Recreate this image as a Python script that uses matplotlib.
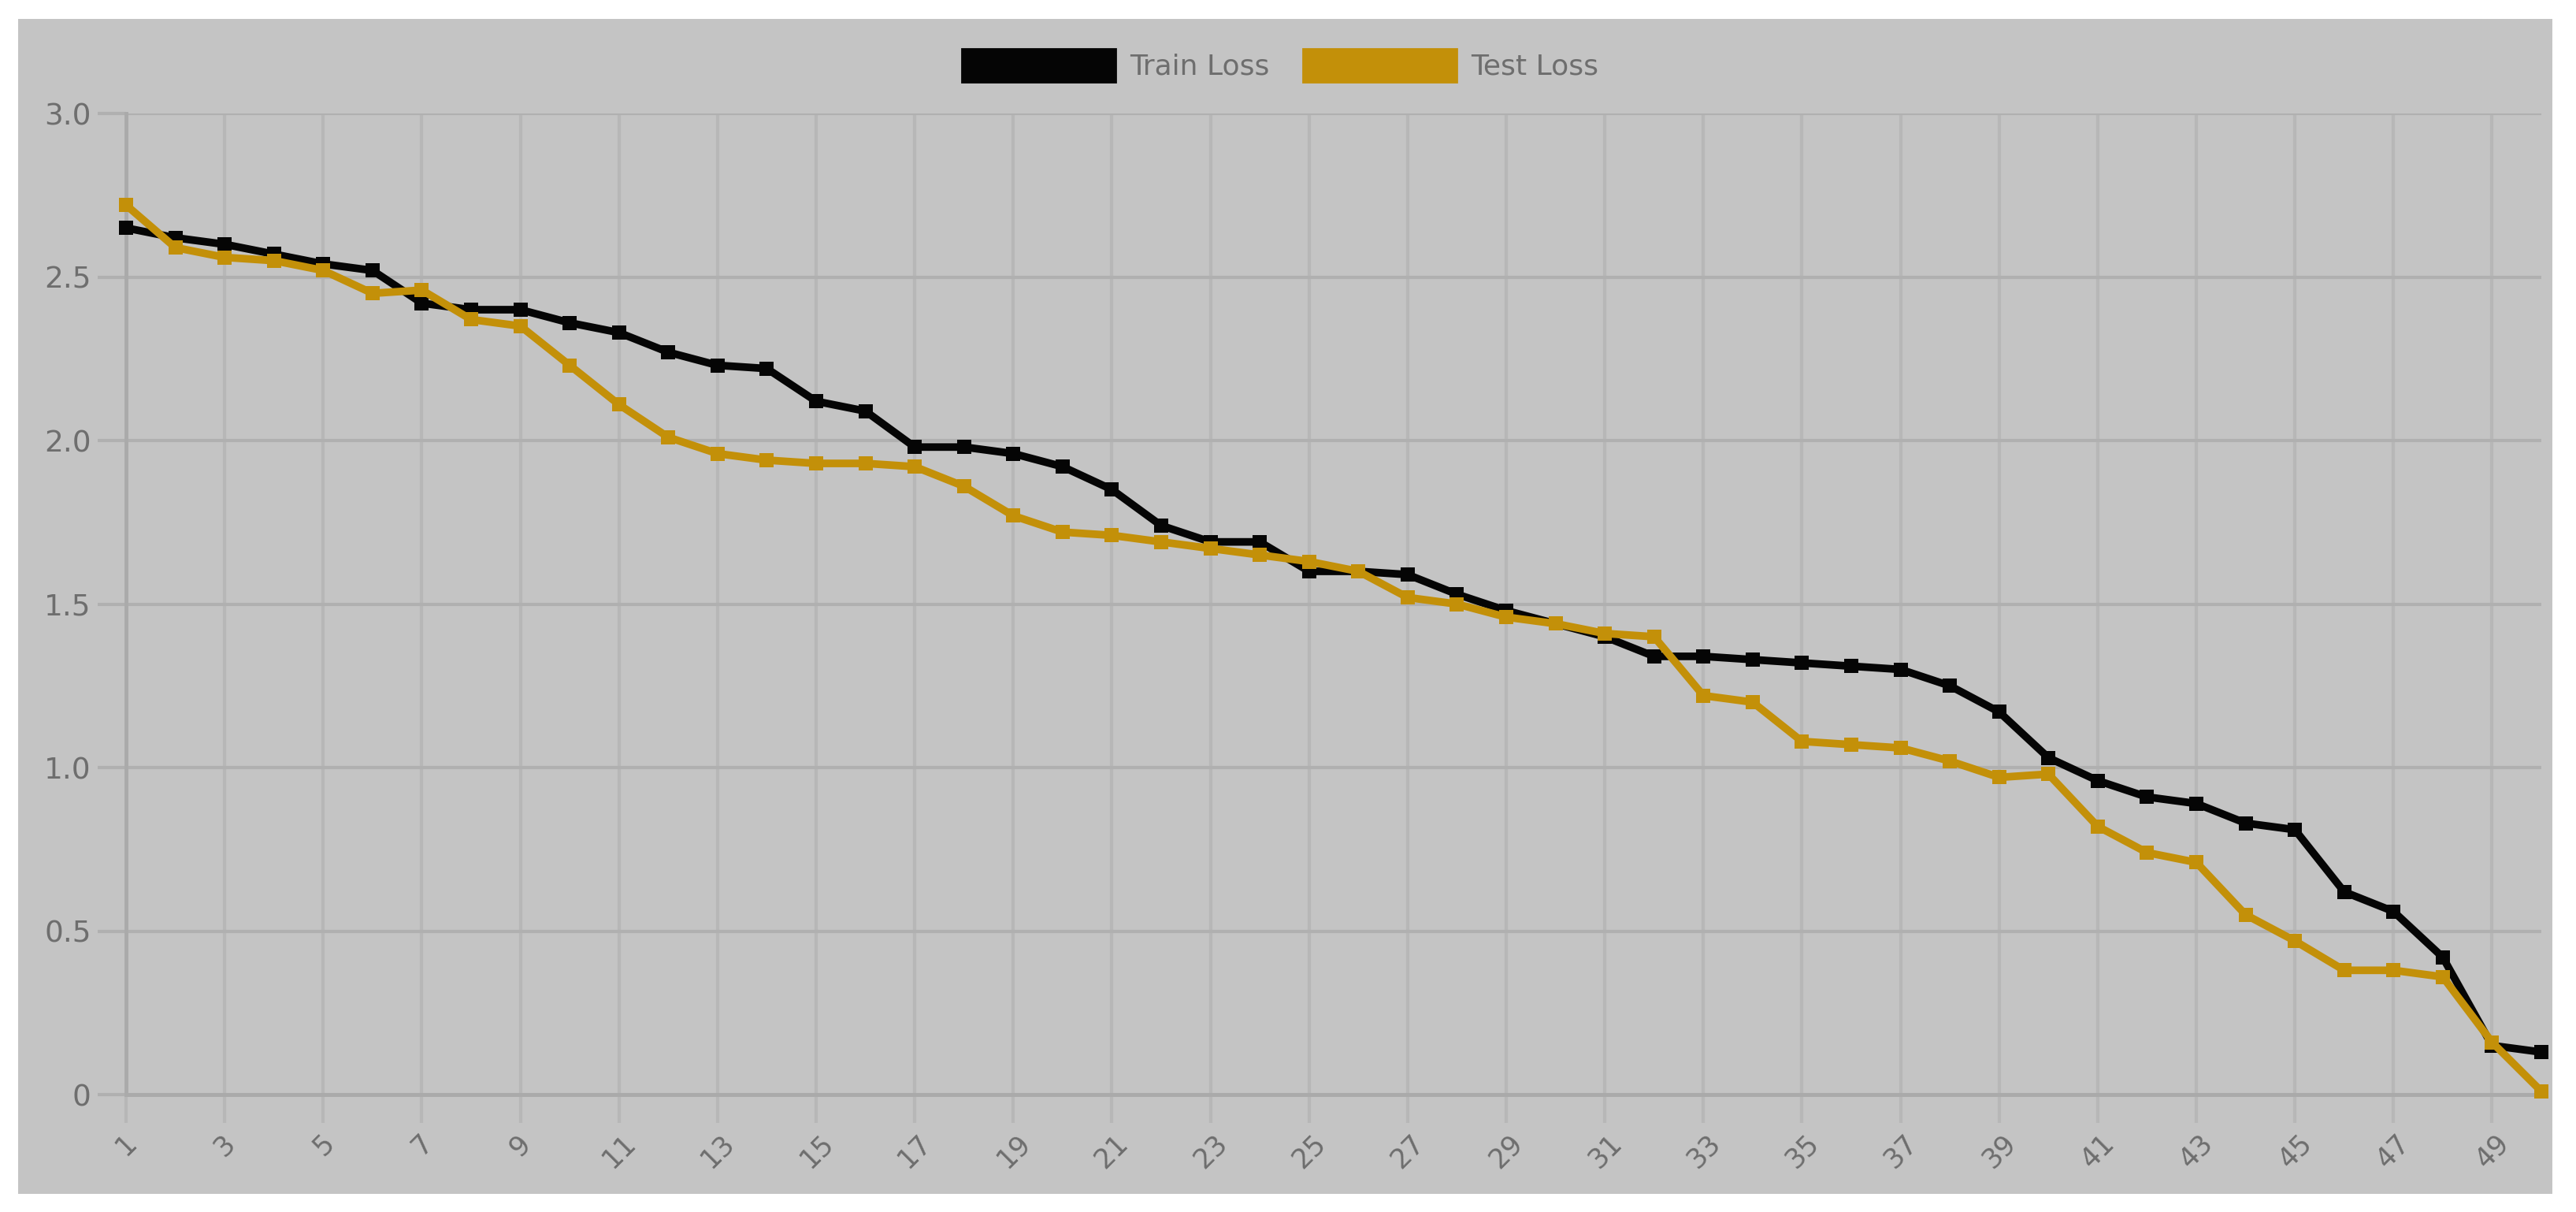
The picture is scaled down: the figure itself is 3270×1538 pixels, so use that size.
import matplotlib
matplotlib.use('Agg')
import matplotlib.pyplot as plt
from matplotlib.patches import Patch, Rectangle


epochs = list(range(1, 51))
train_loss = [2.65, 2.62, 2.60, 2.57, 2.54, 2.52, 2.42, 2.40, 2.40, 2.36,
              2.33, 2.27, 2.23, 2.22, 2.12, 2.09, 1.98, 1.98, 1.96, 1.92,
              1.85, 1.74, 1.69, 1.69, 1.60, 1.60, 1.59, 1.53, 1.48, 1.44,
              1.40, 1.34, 1.34, 1.33, 1.32, 1.31, 1.30, 1.25, 1.17, 1.03,
              0.96, 0.91, 0.89, 0.83, 0.81, 0.62, 0.56, 0.42, 0.15, 0.13]
test_loss = [2.72, 2.59, 2.56, 2.55, 2.52, 2.45, 2.46, 2.37, 2.35, 2.23,
             2.11, 2.01, 1.96, 1.94, 1.93, 1.93, 1.92, 1.86, 1.77, 1.72,
             1.71, 1.69, 1.67, 1.65, 1.63, 1.60, 1.52, 1.50, 1.46, 1.44,
             1.41, 1.40, 1.22, 1.20, 1.08, 1.07, 1.06, 1.02, 0.97, 0.98,
             0.82, 0.74, 0.71, 0.55, 0.47, 0.38, 0.38, 0.36, 0.16, 0.01]
series_names = ['Train Loss', 'Test Loss']
series_colors = ['#050505', '#c39009']
y_ticks = [0, 0.5, 1.0, 1.5, 2.0, 2.5, 3.0]
y_tick_labels = ['0', '0.5', '1.0', '1.5', '2.0', '2.5', '3.0']
x_ticks = list(range(1, 51, 2))

W, H = 3270, 1538
panel = '#c4c4c4'
grid_h = '#b0b0b0'
grid_v = '#b7b7b7'
text_col = '#6e6e6e'

fig = plt.figure(figsize=(W / 100, H / 100), dpi=100)
fig.patch.set_facecolor('white')
fig.add_artist(Rectangle((23 / W, 1 - 1515 / H), (3240 - 23) / W, (1515 - 24) / H,
                         transform=fig.transFigure, facecolor=panel,
                         edgecolor='none', zorder=-5))

ax = fig.add_axes([160 / W, 1 - 1389 / H, (3226 - 160) / W, (1389 - 144) / H])
ax.set_facecolor(panel)

for vals, name, col in zip([train_loss, test_loss], series_names, series_colors):
    ax.plot(epochs, vals, color=col, lw=7, marker='s', ms=13,
            markeredgewidth=0, label=name, zorder=3, clip_on=False)

ax.set_xlim(1, 50)
ax.set_ylim(0, 3.0)
ax.set_yticks(y_ticks)
ax.set_yticklabels(y_tick_labels)
ax.set_xticks(x_ticks)
ax.set_xticklabels([str(x) for x in x_ticks], rotation=45, ha='center',
                   va='top', rotation_mode='default')

ax.grid(axis='y', color=grid_h, lw=3)
ax.grid(axis='x', color=grid_v, lw=3)
ax.set_axisbelow(True)
for side in ['top', 'right']:
    ax.spines[side].set_visible(False)
ax.spines['left'].set_color('#aaaaaa')
ax.spines['left'].set_linewidth(3.5)
ax.spines['bottom'].set_color('#aaaaaa')
ax.spines['bottom'].set_linewidth(3.5)

ax.tick_params(axis='y', length=26, width=3, color=grid_h, pad=6,
               labelsize=27, labelcolor=text_col)
ax.tick_params(axis='x', length=26, width=3, color=grid_v, pad=6,
               labelsize=25, labelcolor=text_col)

handles = [Patch(facecolor=c, edgecolor=c, linewidth=2) for c in series_colors]
fig.legend(handles, series_names, loc='center', bbox_to_anchor=(1625 / W, 1 - 83 / H),
           ncol=2, frameon=False, fontsize=26, labelcolor=text_col,
           handlelength=5.4, handleheight=1.45, handletextpad=0.5, columnspacing=1.2)

fig.savefig('out.png', dpi=100, facecolor='white')
